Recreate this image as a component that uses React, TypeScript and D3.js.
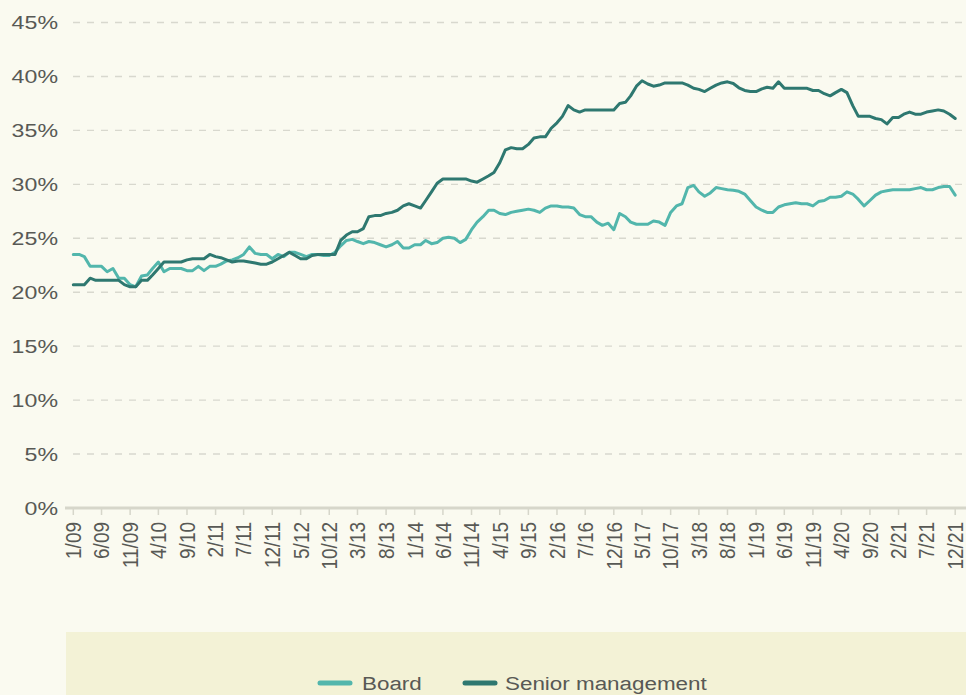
import React from "react";
import * as d3 from "d3";

// monthly share of women (%), Jan 2009 - Dec 2021
const board = [
  23.5, 23.5, 23.3, 22.4, 22.4, 22.4, 21.9, 22.2, 21.3, 21.3,
  20.7, 20.5, 21.5, 21.6, 22.2, 22.8, 21.9, 22.2, 22.2, 22.2,
  22.0, 22.0, 22.4, 22.0, 22.4, 22.4, 22.6, 22.9, 23.0, 23.2,
  23.5, 24.2, 23.6, 23.5, 23.5, 23.1, 23.5, 23.3, 23.7,
  23.7, 23.5, 23.3, 23.5, 23.5, 23.4, 23.4, 23.7, 24.3, 24.8, 24.9,
  24.7, 24.5, 24.7, 24.6, 24.4, 24.2, 24.4, 24.7, 24.1, 24.1,
  24.4, 24.4, 24.8, 24.5, 24.6, 25.0, 25.1, 25.0, 24.6, 24.9,
  25.8, 26.5, 27.0, 27.6, 27.6, 27.3, 27.2,
  27.4, 27.5, 27.6, 27.7, 27.6, 27.4, 27.8, 28.0, 28.0, 27.9, 27.9, 27.8,
  27.2, 27.0, 27.0, 26.5, 26.2, 26.4, 25.8, 27.3, 27.0, 26.5, 26.3,
  26.3, 26.3, 26.6, 26.5, 26.2, 27.4, 28.0, 28.2, 29.7,
  29.9, 29.3, 28.9, 29.2, 29.7, 29.6, 29.5,
  29.45, 29.35, 29.1, 28.5, 27.9, 27.6, 27.4, 27.4, 27.9, 28.1,
  28.2, 28.3, 28.2, 28.2, 28.0, 28.4, 28.5, 28.8, 28.8, 28.9,
  29.3, 29.1, 28.6, 28.0, 28.5, 29.0, 29.3, 29.4, 29.5, 29.5,
  29.5, 29.5, 29.6, 29.7, 29.5, 29.5, 29.7, 29.8, 29.8, 29.0,
];

const seniorManagement = [
  20.7, 20.7, 20.7, 21.3, 21.1, 21.1, 21.1, 21.1, 21.1, 20.7,
  20.5, 20.5, 21.1, 21.1, 21.6, 22.2, 22.8, 22.8, 22.8, 22.8,
  23.0, 23.1, 23.1, 23.1, 23.5, 23.3, 23.2, 23.0, 22.8, 22.9,
  22.9, 22.8, 22.7, 22.6, 22.6, 22.8, 23.1, 23.4, 23.7,
  23.4, 23.1, 23.1, 23.4, 23.5, 23.5, 23.5, 23.5, 24.8, 25.3, 25.6,
  25.6, 25.9, 27.0, 27.1, 27.1, 27.3, 27.4, 27.6, 28.0, 28.2,
  28.0, 27.8, 28.5, 29.3, 30.1, 30.5, 30.5, 30.5, 30.5, 30.5,
  30.3, 30.2, 30.5, 30.8, 31.1, 32.0, 33.2,
  33.4, 33.3, 33.3, 33.7, 34.3, 34.4, 34.4, 35.2, 35.7, 36.3, 37.3, 36.9,
  36.7, 36.9, 36.9, 36.9, 36.9, 36.9, 36.9, 37.5, 37.6, 38.2, 39.1,
  39.6, 39.3, 39.1, 39.2, 39.4, 39.4, 39.4, 39.4, 39.2,
  38.9, 38.8, 38.6, 38.9, 39.2, 39.4, 39.5,
  39.35, 38.95, 38.7, 38.6, 38.6, 38.85, 39.0, 38.9, 39.5, 38.9,
  38.9, 38.9, 38.9, 38.9, 38.7, 38.7, 38.4, 38.2, 38.5, 38.8,
  38.5, 37.3, 36.3, 36.3, 36.3, 36.1, 36.0, 35.6, 36.2, 36.2,
  36.5, 36.7, 36.5, 36.5, 36.7, 36.8, 36.9, 36.8, 36.5, 36.1,
];

const months = d3.timeMonth.range(new Date(2009, 0, 1), new Date(2022, 0, 1));

const xTickLabels = [
  "1/09", "6/09", "11/09", "4/10", "9/10", "2/11", "7/11", "12/11",
  "5/12", "10/12", "3/13", "8/13", "1/14", "6/14", "11/14", "4/15",
  "9/15", "2/16", "7/16", "12/16", "5/17", "10/17", "3/18", "8/18",
  "1/19", "6/19", "11/19", "4/20", "9/20", "2/21", "7/21", "12/21",
];

const yTicks = [0, 5, 10, 15, 20, 25, 30, 35, 40, 45];

const seriesNames = ["Board", "Senior management"];
const seriesColors = ["#52b6ac", "#2e7870"];

const font = "'Liberation Sans', Arial, sans-serif";
const textColor = "#585955";

export default function App() {
  const width = 966;
  const height = 695;

  const x = d3
    .scaleTime()
    .domain([months[0], months[months.length - 1]])
    .range([73.3, 955.2]);
  const y = d3.scaleLinear().domain([0, 45]).range([508, 22.5]);

  const line = d3
    .line<number>()
    .x((d, i) => x(months[i]))
    .y((d) => y(d));

  const tickDate = (s: string) => {
    const [m, yy] = s.split("/").map(Number);
    return new Date(2000 + yy, m - 1, 1);
  };

  const series = [board, seniorManagement];

  return (
    <div style={{ position: "absolute", left: 0, top: 0 }}>
      <svg width={width} height={height} style={{ display: "block" }}>
        <rect x={0} y={0} width={width} height={height} fill="#fafaf0" />

        {/* horizontal grid */}
        {yTicks.slice(1).map((t) => (
          <line
            key={t}
            x1={73}
            x2={width}
            y1={y(t)}
            y2={y(t)}
            stroke="#d8d8ce"
            strokeWidth={1.4}
            strokeDasharray="7,7"
          />
        ))}

        {/* y labels */}
        {yTicks.map((t) => (
          <text
            key={t}
            transform={`translate(58, ${y(t)}) scale(1.22, 1)`}
            dy="0.35em"
            textAnchor="end"
            fontFamily={font}
            fontSize={19}
            fill={textColor}
          >
            {t}%
          </text>
        ))}

        {/* x axis */}
        <line x1={65} x2={width} y1={508} y2={508} stroke="#d6d6ca" strokeWidth={3} />
        {xTickLabels.map((s) => {
          const tx = x(tickDate(s));
          return (
            <g key={s}>
              <line x1={tx} x2={tx} y1={509} y2={515} stroke="#d6d6ca" strokeWidth={1.5} />
              <text
                transform={`translate(${tx}, 522) rotate(-90) scale(1, 1.18)`}
                dy="0.35em"
                textAnchor="end"
                fontFamily={font}
                fontSize={19}
                fill={textColor}
              >
                {s}
              </text>
            </g>
          );
        })}

        {/* lines */}
        {series.map((data, i) => (
          <path
            key={seriesNames[i]}
            d={line(data) || ""}
            fill="none"
            stroke={seriesColors[i]}
            strokeWidth={3}
            strokeLinejoin="round"
            strokeLinecap="round"
          />
        ))}

        {/* legend */}
        <rect x={66} y={632} width={width - 66} height={height - 632} fill="#f3f2d6" />
        {[
          { sx: 318, tx: 362 },
          { sx: 463, tx: 505 },
        ].map((p, i) => (
          <g key={seriesNames[i]}>
            <line
              x1={p.sx + 2}
              x2={p.sx + 32}
              y1={683}
              y2={683}
              stroke={seriesColors[i]}
              strokeWidth={5}
              strokeLinecap="round"
            />
            <text
              transform={`translate(${p.tx}, 690) scale(1.18, 1)`}
              fontFamily={font}
              fontSize={19}
              fill={textColor}
            >
              {seriesNames[i]}
            </text>
          </g>
        ))}
      </svg>
    </div>
  );
}
